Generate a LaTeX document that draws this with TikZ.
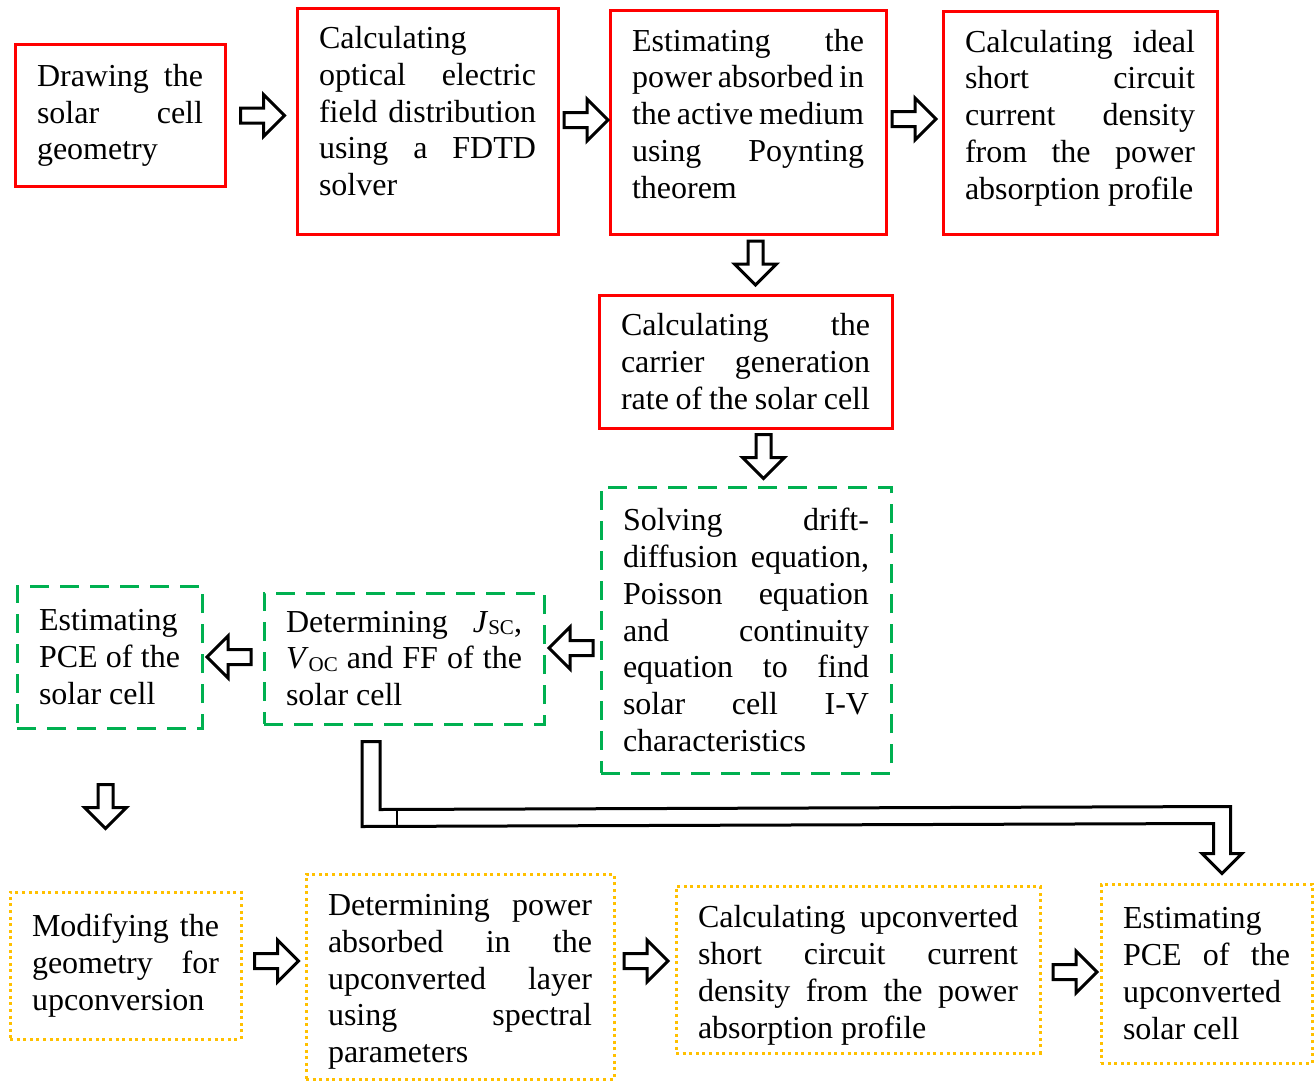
\documentclass[tikz,border=0pt]{standalone}
\usepackage{fontspec}
\setmainfont{Liberation Serif}
\usetikzlibrary{calc}
\definecolor{boxred}{HTML}{FF0000}
\definecolor{boxgreen}{HTML}{00B050}
\definecolor{boxorange}{HTML}{FFC000}
\newcommand{\Jsc}{\textit{J}\raisebox{-2.5pt}{\fontsize{21}{21}\selectfont SC}}
\newcommand{\Voc}{\textit{V}\raisebox{-2.5pt}{\fontsize{21}{21}\selectfont OC}}
% justified line and ragged (last) line of a paragraph
\newcommand{\jl}[1]{\noindent\hbox to \hsize{\spaceskip=0.25em plus 1fil minus 0.12em\relax #1}}
\newcommand{\rl}[1]{\noindent\hbox to \hsize{\spaceskip=0.25em plus 0.05em minus 0.12em\relax #1\hfil}}
% invisible struts that move a text block up or down inside its box
\newcommand{\dropstrut}[1]{\rule[-#1pt]{0pt}{0pt}}
\newcommand{\liftstrut}[1]{\rule{0pt}{#1pt}}
\tikzset{
  stepbox/.style={line width=3pt, inner xsep=22pt, inner ysep=0pt, align=left,
    font=\fontsize{32}{36.8}\selectfont},
  redbox/.style={stepbox, draw=boxred},
  greenbox/.style={stepbox, draw=boxgreen, dash pattern=on 19pt off 11pt},
  orangebox/.style={stepbox, draw=boxorange, dash pattern=on 3pt off 3.6pt},
  arrowline/.style={draw=black, fill=white, line width=3pt, line join=miter},
  hollow/.pic={\draw[arrowline] (-22,-7.5) -- (1,-7.5) -- (1,-21) -- (22,0)
    -- (1,21) -- (1,7.5) -- (-22,7.5) -- cycle;}
}
\begin{document}
\begin{tikzpicture}[x=1pt, y=-1pt]
\useasboundingbox (0,0) rectangle (1316,1081);

% optical stage
\node[redbox, text width=166pt, minimum height=141pt] (b1) at (120,115.5)
  {\jl{Drawing the}\\\jl{solar cell}\\\rl{geometry}};
\node[redbox, text width=217pt, minimum height=225pt] (b2) at (427.5,121.5)
  {\rl{Calculating}\\\jl{optical electric}\\\jl{field distribution}\\\jl{using a FDTD}\\\rl{solver\dropstrut{21}}};
\node[redbox, text width=232pt, minimum height=223pt] (b3) at (748,122.5)
  {\jl{Estimating the}\\\jl{power absorbed in}\\\jl{the active medium}\\\jl{using Poynting}\\\rl{theorem\dropstrut{18}}};
\node[redbox, text width=230pt, minimum height=222pt] (b4) at (1080,123)
  {\jl{Calculating ideal}\\\jl{short circuit}\\\jl{current density}\\\jl{from the power}\\\rl{absorption profile\dropstrut{17}}};
\node[redbox, text width=249pt, minimum height=133pt] (b5) at (745.5,361.5)
  {\jl{Calculating the}\\\jl{carrier generation}\\\rl{rate of the solar cell}};

% electrical stage
\node[greenbox, text width=246pt, minimum height=286pt] (b6) at (746,630)
  {\jl{Solving drift-}\\\jl{diffusion equation,}\\\jl{Poisson equation}\\\jl{and continuity}\\\jl{equation to find}\\\jl{solar cell I-V}\\\rl{characteristics}};
\node[greenbox, text width=236pt, minimum height=131pt] (b7) at (404,658.5)
  {\jl{Determining \Jsc,}\\\jl{\Voc{} and FF of the}\\\rl{solar cell}};
\node[greenbox, text width=141pt, minimum height=142pt] (b8) at (109.5,657)
  {\rl{Estimating}\\\jl{PCE of the}\\\rl{solar cell}};

% upconversion stage
\node[orangebox, text width=187pt, minimum height=147pt] (b9) at (125.5,965.5)
  {\jl{Modifying the}\\\jl{geometry for}\\\rl{upconversion}};
\node[orangebox, text width=264pt, minimum height=205pt] (b10) at (460,976.5)
  {\jl{\liftstrut{32}Determining power}\\\jl{absorbed in the}\\\jl{upconverted layer}\\\jl{using spectral}\\\rl{parameters}};
\node[orangebox, text width=320pt, minimum height=167pt] (b11) at (858,969.5)
  {\jl{\liftstrut{34}Calculating upconverted}\\\jl{short circuit current}\\\jl{density from the power}\\\rl{absorption profile}};
\node[orangebox, text width=167pt, minimum height=179pt] (b12) at (1206.5,973.5)
  {\rl{Estimating}\\\jl{PCE of the}\\\rl{upconverted}\\\rl{solar cell}};

% block arrows between the steps
\pic at ($(b1.east)+(36,0)$) {hollow};
\pic at ($(b2.east)+(26.5,-1.5)$) {hollow};
\pic at ($(b3.east)+(26.5,-3.5)$) {hollow};
\pic[rotate=-90] at ($(b3.south)+(7.5,27.5)$) {hollow};
\pic[rotate=-90] at ($(b5.south)+(18,27)$) {hollow};
\pic[rotate=180] at ($(b6.west)+(-28.5,18)$) {hollow};
\pic[rotate=180] at ($(b7.west)+(-33.5,-1.5)$) {hollow};
\pic[rotate=-90] at ($(b8.south)+(-4,77)$) {hollow};
\pic at ($(b9.east)+(34,-4.5)$) {hollow};
\pic at ($(b10.east)+(30.5,-15.5)$) {hollow};
\pic at ($(b11.east)+(33.5,2.5)$) {hollow};

% bent block arrow from the J-V results to the upconverted PCE
\coordinate (s) at ($(b7.south)+(-33,16)$);
\coordinate (t) at ($(b12.north)+(15.5,-9)$);
\draw[arrowline] ($(s)+(-9,0)$) -- ($(s)+(9,0)$) -- ($(s)+(9,68)$)
  -- ($(t)+(8.5,-67)$) -- ($(t)+(8.5,-20)$) -- ($(t)+(20,-20)$) -- (t)
  -- ($(t)+(-20,-20)$) -- ($(t)+(-8.5,-20)$) -- ($(t)+(-8.5,-50)$)
  -- ($(s)+(-9,85)$) -- cycle;
\draw[line width=1.5pt] ($(s)+(26,68)$) -- ($(s)+(26,85)$);
\end{tikzpicture}
\end{document}
